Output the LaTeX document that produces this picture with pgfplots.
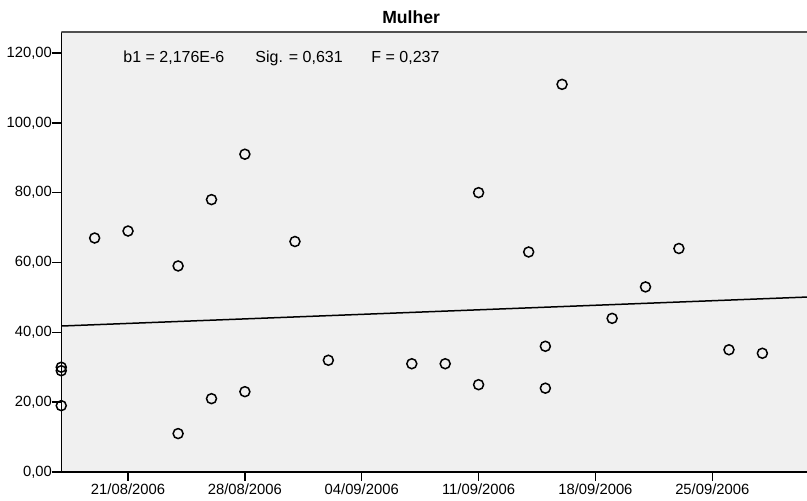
\documentclass[border=0pt]{standalone}
\usepackage{fontspec}
\setmainfont{Liberation Sans}
\usepackage{pgfplots}
\pgfplotsset{compat=1.18}
\definecolor{plotbg}{RGB}{240,240,240}
\definecolor{topline}{RGB}{80,80,80}

\begin{document}
\begin{tikzpicture}
  \begin{axis}[
      scale only axis, width=373pt, height=220pt,
      xmin=0, xmax=44.69, ymin=0, ymax=126,
      axis x line*=bottom, axis y line*=left,
      axis line style={-, black, line width=0.75pt},
      axis background/.style={fill=plotbg},
      tick align=outside, major tick length=4.5pt,
      tick style={black, line width=0.75pt},
      xtick={4,11,18,25,32,39},
      xticklabels={21/08/2006,28/08/2006,04/09/2006,11/09/2006,18/09/2006,25/09/2006},
      ytick={0,20,40,60,80,100,120},
      yticklabels={{0,00},{20,00},{40,00},{60,00},{80,00},{100,00},{120,00}},
      tick label style={font=\fontsize{7.4}{8}\selectfont},
      yticklabel style={inner xsep=0pt},
      xticklabel style={inner ysep=1pt},
    ]
    % days since 17/08/2006
    \addplot[only marks, mark=o, mark size=2.5pt, mark options={black, line width=0.75pt}] coordinates {
      (0,30) (0,29) (0,19)
      (2,67) (4,69) (7,59) (7,11) (9,78) (9,21)
      (11,91) (11,23) (14,66) (16,32) (21,31) (23,31)
      (25,80) (25,25) (28,63) (29,36) (29,24) (30,111)
      (33,44) (35,53) (37,64) (40,35) (42,34)
    };
    % fitted line
    \addplot[no marks, black, line width=0.75pt] coordinates {(0,41.8) (44.69,50.1)};
    \draw[topline, line width=0.75pt] (rel axis cs:0,1) -- (rel axis cs:1,1);
    \node[anchor=base west, inner sep=0, font=\fontsize{8}{9}\selectfont] at (axis cs:3.70,117.2) {b1 = 2,176E-6};
    \node[anchor=base west, inner sep=0, font=\fontsize{8}{9}\selectfont] at (axis cs:11.61,117.2) {Sig. = 0,631};
    \node[anchor=base west, inner sep=0, font=\fontsize{8}{9}\selectfont] at (axis cs:18.56,117.2) {F = 0,237};
    \coordinate (sw) at (rel axis cs:0,0);
    \coordinate (tt) at (rel axis cs:0.469,1);
  \end{axis}
  \node[anchor=base, inner sep=0, font=\fontsize{8.8}{10}\selectfont\bfseries] at ([yshift=4pt]tt) {Mulher};
  \pgfresetboundingbox
  \path (sw) ++(-30.63pt,-14.5pt) rectangle ++(403.5pt,250.5pt);
\end{tikzpicture}
\end{document}
